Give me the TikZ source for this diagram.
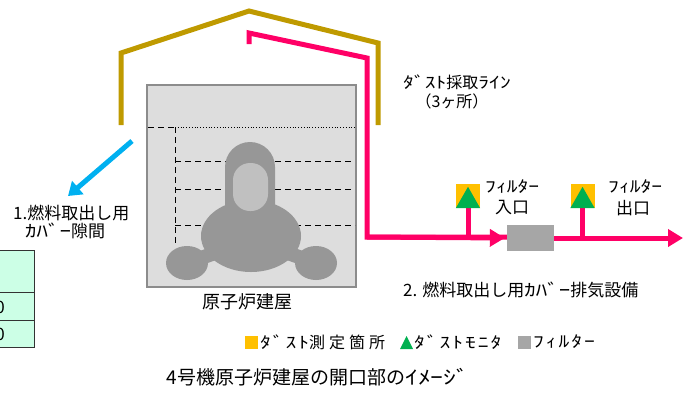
\documentclass[tikz,border=0pt]{standalone}
\usepackage{fontspec}
\setmainfont{Noto Sans CJK JP}
\newfontfamily\hw[FakeStretch=1.35]{Noto Sans CJK JP}
\newfontfamily\legfont[LetterSpace=25]{Noto Sans CJK JP}
\newfontfamily\leghw[LetterSpace=12,FakeStretch=1.35]{Noto Sans CJK JP}
\usetikzlibrary{arrows.meta}

\definecolor{roof}{RGB}{191,154,0}
\definecolor{duct}{RGB}{255,0,102}
\definecolor{gap}{RGB}{0,176,240}
\definecolor{spot}{RGB}{255,192,0}
\definecolor{monitor}{RGB}{0,176,80}
\definecolor{filt}{RGB}{166,166,166}
\definecolor{hall}{RGB}{221,221,221}
\definecolor{hallline}{RGB}{140,140,140}
\definecolor{core}{RGB}{151,151,151}
\definecolor{coreinner}{RGB}{192,192,192}
\definecolor{mint}{RGB}{204,255,230}

\begin{document}
\begin{tikzpicture}[x=1pt,y=-1pt,
    lbl/.style={inner sep=0pt,font=\fontsize{16}{18}\selectfont},
    big/.style={font=\fontsize{17}{19}\selectfont},
    leg/.style={inner sep=0pt,anchor=west,font=\fontsize{16}{18}\selectfont\legfont},
    sensor/.style={fill=spot,minimum size=24pt,inner sep=0pt},
    filterbox/.style={fill=filt,minimum width=47pt,minimum height=26pt,inner sep=0pt},
    pipe/.style={duct,line width=5pt},
    hatch/.style={dash pattern=on 6pt off 4pt,line width=1pt}]
            \useasboundingbox (0,0) rectangle (695,392);
            \clip (0,0) rectangle (695,392);

            % cover roof
            \coordinate (r1) at (121,125);
            \coordinate (r2) at (121,53);
            \coordinate (r3) at (249,11);
            \coordinate (r4) at (378,43);
            \coordinate (r5) at (378,125);
            \draw[roof,line width=5pt] (r1)--(r2)--(r3)--(r4)--(r5);

            % reactor building
            \coordinate (b1) at (147,85);
            \coordinate (b2) at (356,287);
            \filldraw[fill=hall,draw=hallline,line width=1.5pt] (b1) rectangle (b2);

            \coordinate (d1) at (148,127);
            \coordinate (d2) at (175,127);
            \coordinate (d3) at (355,127);
            \coordinate (d4) at (175,243);
            \draw[hatch] (d1)--(d2);
            \draw[dotted,line width=0.8pt] (d2)--(d3);
            \draw[hatch] (d2)--(d4);
            \foreach \y/\xe in {161/352,189/352,225/355}
                \draw[hatch] (175,\y)--(\xe,\y);

            % reactor
            \fill[core] (251,236) ellipse (50 and 36);
            \fill[core,rounded corners=25pt] (225,142) rectangle (275,250);
            \fill[core] (187,263) ellipse (21 and 17);
            \fill[core] (316,263) ellipse (21 and 17);
            \draw[core,line width=14pt] (187,263)--(251,240);
            \draw[core,line width=14pt] (316,263)--(251,240);
            \fill[coreinner,rounded corners=17pt] (233,163) rectangle (268,211);

            \node[lbl,font=\fontsize{18}{20}\selectfont] (bld) at (247,302) {原子炉建屋};

            % gap of the cover
            \coordinate (g1) at (132,141);
            \coordinate (g2) at (68,196);
            \draw[gap,line width=5pt,-{Triangle[length=13pt,width=17pt]}] (g1)--(g2);
            \node[lbl,big,anchor=west] (gapa) at (13,213) {1.燃料取出し用};
            \node[lbl,big,anchor=west] (gapb) at (25,231) {{\hw ｶﾊﾞｰ}隙間};

            % exhaust line
            \node[filterbox] (f) at (530.5,238) {};
            \coordinate (p1) at (249,44);
            \coordinate (p2) at (249,33);
            \coordinate (p3) at (367,58);
            \coordinate (p4) at (367,237);
            \coordinate (p5) at (683,238);
            \draw[pipe] (p1)--(p2)--(p3)--(p4)--(f.west |- p4);
            \draw[pipe,-{Triangle[length=15pt,width=17pt]},shorten >=2pt] (p4)--(f.west);
            \draw[pipe,-{Triangle[length=15pt,width=17pt]}] (f.east)--(p5);

            \node[lbl,anchor=west] (line1) at (403,82) {{\hw ﾀﾞｽﾄ}採取{\hw ﾗｲﾝ}};
            \node[lbl] (line2) at (452,101) {（3ヶ所）};

            % monitors
            \node[sensor] (s1) at (468,196) {};
            \node[sensor] (s2) at (582.5,196) {};
            \coordinate (s1b) at (468,240);
            \coordinate (s2b) at (582.5,240);
            \draw[pipe] (s1.south)--(s1b);
            \draw[pipe] (s2.south)--(s2b);
            \fill[monitor] (s1.south west)--(s1.south east)--([yshift=-3pt]s1.north)--cycle;
            \fill[monitor] (s2.south west)--(s2.south east)--([yshift=-3pt]s2.north)--cycle;

            \node[lbl,anchor=west] (in1) at (485,187) {\hw ﾌｨﾙﾀｰ};
            \node[lbl,big] (in2) at (512,208) {入口};
            \node[lbl,anchor=west] (out1) at (608,187) {\hw ﾌｨﾙﾀｰ};
            \node[lbl,big] (out2) at (633,208) {出口};

            \node[lbl,big,anchor=west] (exh) at (403,290) {2. 燃料取出し用{\hw ｶﾊﾞｰ}排気設備};

            % table edge
            \filldraw[fill=mint,draw=black!80,line width=1pt] (-10,250) rectangle (34,292);
            \filldraw[fill=mint,draw=black!80,line width=1pt] (-10,292) rectangle (34,320);
            \filldraw[fill=mint,draw=black!80,line width=1pt] (-10,320) rectangle (34,347);
            \node[lbl,big,anchor=east] (t1) at (5,307) {0};
            \node[lbl,big,anchor=east] (t2) at (5,334) {0};

            % legend
            \fill[spot] (245,336) rectangle (258,349);
            \node[leg] (k1) at (260,342) {{\leghw ﾀﾞｽﾄ}測定箇所};
            \fill[monitor] (400,349)--(413,349)--(406.5,336)--cycle;
            \node[leg] (k2) at (414,342) {\leghw ﾀﾞｽﾄﾓﾆﾀ};
            \fill[filt] (518,336) rectangle (531,349);
            \node[leg] (k3) at (533,342) {\leghw ﾌｨﾙﾀｰ};

            \node[lbl,font=\fontsize{19}{21}\selectfont] (cap) at (318,377) {4号機原子炉建屋の開口部の{\hw ｲﾒｰｼﾞ}};
        \end{tikzpicture}
\end{document}
